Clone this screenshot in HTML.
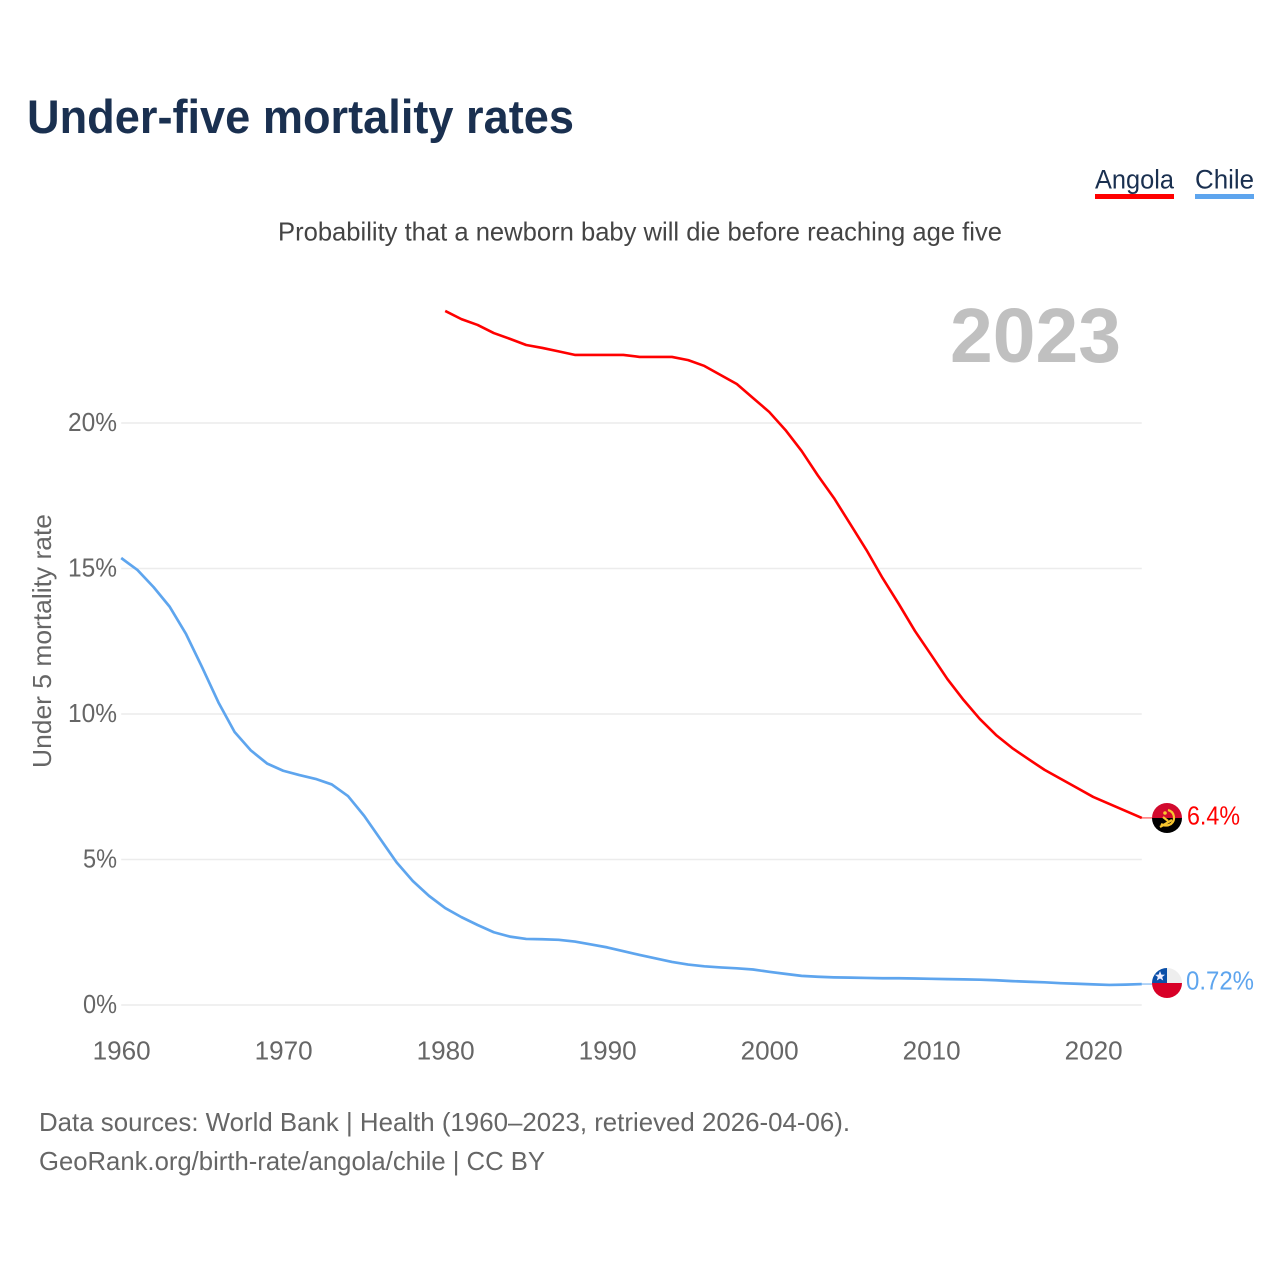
<!DOCTYPE html>
<html lang="en">
<head>
<meta charset="utf-8">
<title>Under-five mortality rates</title>
<style>
html,body{margin:0;padding:0;background:#fff;width:1280px;height:1280px;overflow:hidden}
svg{display:block;font-family:"Liberation Sans",sans-serif}
</style>
</head>
<body>
<svg id="chart" xmlns="http://www.w3.org/2000/svg" width="1280" height="1280" viewBox="0 0 1280 1280">
  <defs>
    <clipPath id="clip-angola"><circle cx="1167" cy="818" r="15"/></clipPath>
    <clipPath id="clip-chile"><circle cx="1167" cy="983" r="15"/></clipPath>
  </defs>
  <rect width="1280" height="1280" fill="#fff"/>
  <text x="27" y="133" font-size="47" font-weight="700" fill="#1a3050" textLength="547" lengthAdjust="spacingAndGlyphs">Under-five mortality rates</text>
  <g>
    <g>
      <text x="1095" y="188.5" font-size="27" fill="#1a3050" textLength="79" lengthAdjust="spacingAndGlyphs">Angola</text>
      <rect x="1095" y="194" width="79" height="5" fill="#ff0000"/>
    </g>
    <g>
      <text x="1195" y="188.5" font-size="27" fill="#1a3050" textLength="59" lengthAdjust="spacingAndGlyphs">Chile</text>
      <rect x="1195" y="194" width="59" height="5" fill="#5ea5ee"/>
    </g>
  </g>
  <text x="278" y="240.5" font-size="26" fill="#444" textLength="724" lengthAdjust="spacingAndGlyphs">Probability that a newborn baby will die before reaching age five</text>
  <text x="950" y="362" font-size="77" font-weight="700" fill="#c0c0c0" textLength="171" lengthAdjust="spacingAndGlyphs">2023</text>
  <text transform="translate(51,768) rotate(-90)" x="0" y="0" font-size="26" fill="#666" textLength="254" lengthAdjust="spacingAndGlyphs">Under 5 mortality rate</text>
  <g id="grid"></g>
  <g id="yticks"></g>
  <g id="xticks"></g>
  <g id="series"></g>
  <g id="flag-angola">
    <g clip-path="url(#clip-angola)">
      <rect x="1152" y="803" width="30" height="15" fill="#d20a2e"/>
      <rect x="1152" y="818" width="30" height="15" fill="#000"/>
      <path d="M1168 810a8 8 0 0 1 3 14q-5 3 -10 0" fill="none" stroke="#f7c62f" stroke-width="2.2"/>
      <path d="M1160 827l12-7M1163 817l5 4" fill="none" stroke="#f7c62f" stroke-width="2.2"/>
      <circle cx="1165" cy="813" r="1.8" fill="#f7c62f"/>
    </g>
  </g>
  <g id="flag-chile">
    <g clip-path="url(#clip-chile)">
      <rect x="1152" y="968" width="30" height="15" fill="#eeeeee"/>
      <rect x="1152" y="968" width="15" height="15" fill="#0a4fa8"/>
      <rect x="1152" y="983" width="30" height="15" fill="#d80027"/>
      <polygon points="1160,971 1161.4,974.6 1165,974.8 1162.2,977 1163.2,980.5 1160,978.5 1156.8,980.5 1157.8,977 1155,974.8 1158.6,974.6" fill="#eef"/>
    </g>
  </g>
  <text id="value-angola" x="1187" y="824.5" font-size="26" fill="#ff0000" textLength="53" lengthAdjust="spacingAndGlyphs"></text>
  <text id="value-chile" x="1186" y="989.5" font-size="26" fill="#5ea5ee" textLength="68" lengthAdjust="spacingAndGlyphs"></text>
  <g>
    <text x="39" y="1131" font-size="26" fill="#666" textLength="811" lengthAdjust="spacingAndGlyphs">Data sources: World Bank | Health (1960–2023, retrieved 2026-04-06).</text>
    <text x="39" y="1170" font-size="26" fill="#666" textLength="506" lengthAdjust="spacingAndGlyphs">GeoRank.org/birth-rate/angola/chile | CC BY</text>
  </g>
</svg>
<script>
const xTicks = [1960, 1970, 1980, 1990, 2000, 2010, 2020];
const yTicks = [0, 5, 10, 15, 20];
const chileStart = 1960;
const chileValues = [15.36,14.95,14.36,13.68,12.75,11.6,10.4,9.38,8.75,8.3,8.05,7.9,7.77,7.58,7.18,6.5,5.7,4.9,4.26,3.75,3.33,3.02,2.75,2.5,2.35,2.27,2.26,2.24,2.18,2.08,1.98,1.85,1.72,1.6,1.48,1.39,1.33,1.29,1.26,1.22,1.14,1.07,1.0,0.97,0.95,0.94,0.93,0.92,0.92,0.91,0.9,0.89,0.88,0.87,0.85,0.82,0.8,0.78,0.75,0.73,0.71,0.69,0.7,0.72];
const angolaStart = 1980;
const angolaValues = [23.85,23.57,23.37,23.09,22.89,22.68,22.58,22.46,22.34,22.34,22.34,22.34,22.27,22.27,22.27,22.16,21.96,21.65,21.34,20.86,20.38,19.76,19.04,18.2,17.42,16.53,15.64,14.67,13.78,12.85,12.03,11.2,10.48,9.83,9.28,8.83,8.45,8.08,7.77,7.46,7.15,6.91,6.67,6.43];

const SVGNS = 'http://www.w3.org/2000/svg';
function xScale(year) { return 121.2 + (year - 1960) * 16.2; }
function yScale(pct) { return 1005 - pct * 29.1; }
function make(tag, attrs, parent) {
  const el = document.createElementNS(SVGNS, tag);
  for (const k in attrs) el.setAttribute(k, attrs[k]);
  parent.appendChild(el);
  return el;
}
const grid = document.getElementById('grid');
const yt = document.getElementById('yticks');
const xt = document.getElementById('xticks');
const series = document.getElementById('series');

yTicks.forEach(function (v) {
  const line = make('line', {x1: xScale(1960), x2: xScale(2023), y1: yScale(v), y2: yScale(v), stroke: '#ececec', 'stroke-width': 1.6}, grid);
  
  
  const label = String(v) + '%';
  const t = make('text', {x: 117, y: yScale(v) + 7.8, 'font-size': 25.5, fill: '#666', 'text-anchor': 'end', textLength: label.length === 2 ? 34 : 49, lengthAdjust: 'spacingAndGlyphs'}, yt);
  
  
  t.textContent = label;
});

xTicks.forEach(function (y) {
  const t = make('text', {x: xScale(y) + 0.4, y: 1059.5, 'font-size': 25.5, fill: '#666', 'text-anchor': 'middle', textLength: 58, lengthAdjust: 'spacingAndGlyphs'}, xt);
  
  
  t.textContent = String(y);
});

function linePoints(start, values) {
  return values.map(function (v, i) { return xScale(start + i).toFixed(2) + ',' + yScale(v).toFixed(2); }).join(' ');
}
const lineChile = make('polyline', {points: linePoints(chileStart, chileValues), fill: 'none', stroke: '#5ea5ee', 'stroke-width': 2.7, 'stroke-linejoin': 'round'}, series);


const lineAngola = make('polyline', {points: linePoints(angolaStart, angolaValues), fill: 'none', stroke: '#ff0000', 'stroke-width': 2.6, 'stroke-linejoin': 'round'}, series);



const lastAngola = angolaValues[angolaValues.length - 1];
const lastChile = chileValues[chileValues.length - 1];
const leadAngola = make('line', {x1: xScale(2023), x2: 1154, y1: yScale(lastAngola), y2: yScale(lastAngola), stroke: '#ff0000', 'stroke-opacity': 0.5, 'stroke-width': 1.6}, series);


const leadChile = make('line', {x1: xScale(2023), x2: 1154, y1: yScale(lastChile), y2: yScale(lastChile), stroke: '#5ea5ee', 'stroke-opacity': 0.6, 'stroke-width': 1.6}, series);



document.getElementById('value-angola').textContent = lastAngola.toFixed(1) + '%';
document.getElementById('value-chile').textContent = lastChile.toFixed(2) + '%';
</script>
</body>
</html>
